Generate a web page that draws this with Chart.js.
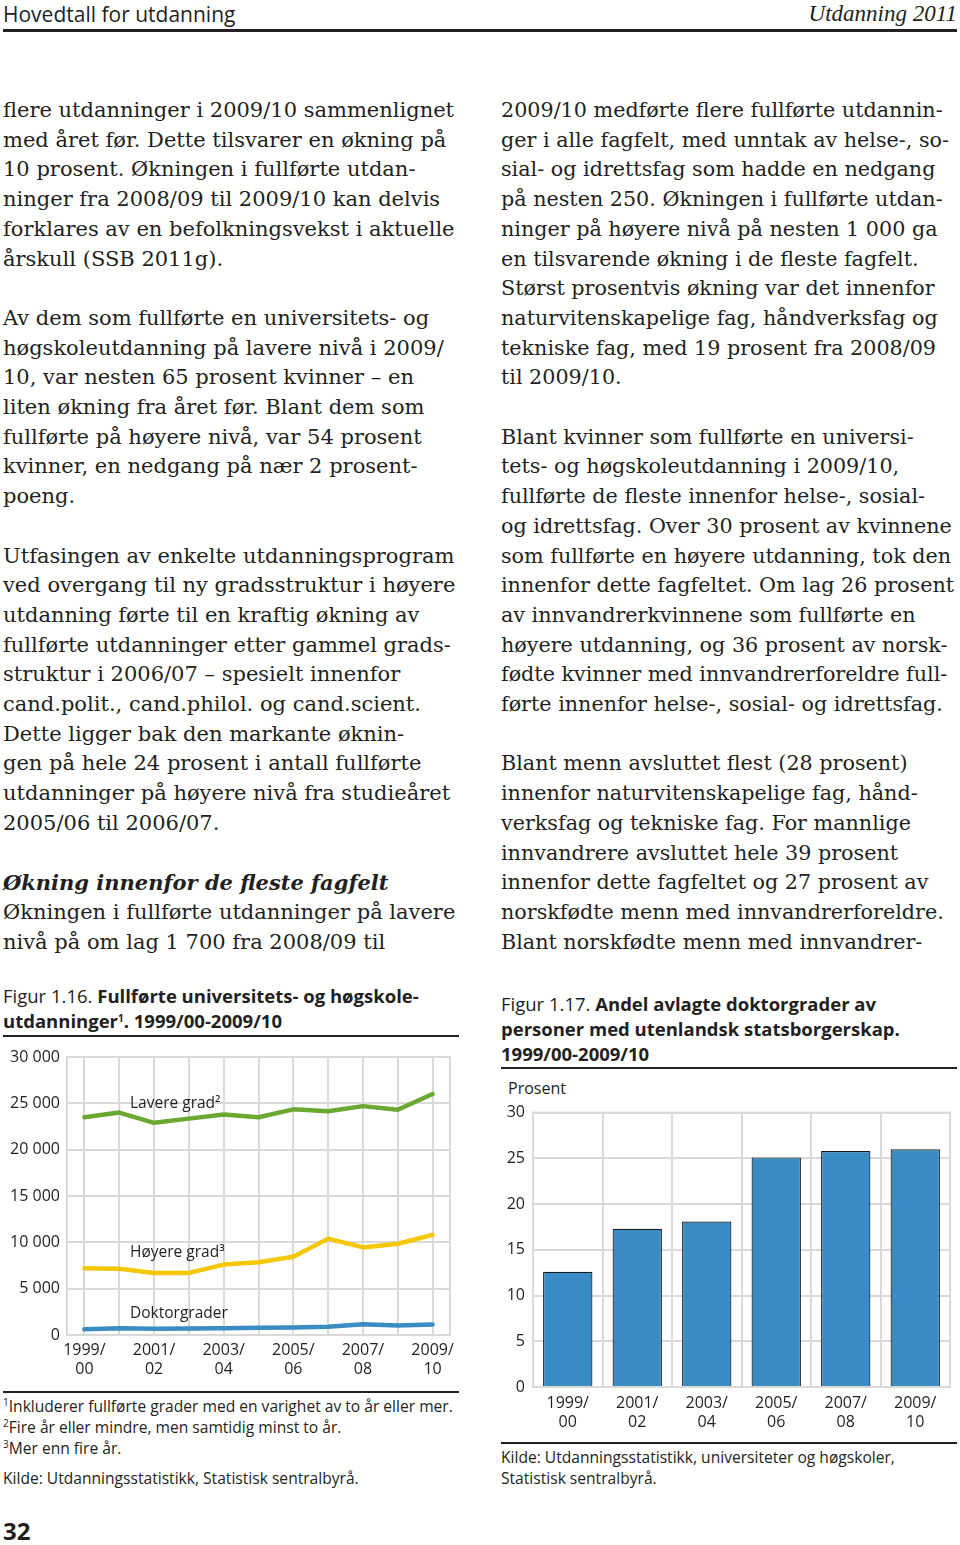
<!DOCTYPE html>
<html lang="no">
<head>
<meta charset="utf-8">
<script src="https://cdn.jsdelivr.net/npm/chart.js@4"></script>
<style>
  html, body { margin: 0; padding: 0; background: #fff; }
  body { width: 960px; height: 1545px; position: relative; overflow: hidden; color: #231f20; }
  .abs { position: absolute; }
  .hdr-l { left: 3px; top: 0px; font: 21px "Open Sans", sans-serif; line-height: 28px; }
  .hdr-r { right: 3px; top: 0px; font: italic 23px "Liberation Serif", serif; line-height: 28px; }
  .rule { background: #231f20; }
  .col { font-family: "DejaVu Serif", serif; font-size: 21px; line-height: 29.7px; white-space: nowrap; }
  .col .gap { height: 29.7px; }
  .col .h { font-weight: bold; font-style: italic; }
  .fig { font-family: "Open Sans", sans-serif; font-size: 18.5px; line-height: 25px; white-space: nowrap; }
  .fig b { font-weight: bold; }
  .fig sup, .note sup { font-size: 10px; vertical-align: 6px; line-height: 0; }
  .note { font-family: "Open Sans", sans-serif; font-size: 15.6px; line-height: 21px; white-space: nowrap; }
  .chartbox { position: absolute; }
  .pg { left: 3px; top: 1514px; font: bold 24px "Open Sans", sans-serif; }
</style>
</head>
<body>

<div class="abs hdr-l">Hovedtall for utdanning</div>
<div class="abs hdr-r">Utdanning 2011</div>
<div class="abs rule" style="left:3px; top:29px; width:954px; height:3px;"></div>

<div class="abs col" style="left:3px; top:96px;">
  <div>flere utdanninger i 2009/10 sammenlignet</div>
  <div>med året før. Dette tilsvarer en økning på</div>
  <div>10 prosent. Økningen i fullførte utdan-</div>
  <div>ninger fra 2008/09 til 2009/10 kan delvis</div>
  <div>forklares av en befolkningsvekst i aktuelle</div>
  <div>årskull (SSB 2011g).</div>
  <div class="gap"></div>
  <div>Av dem som fullførte en universitets- og</div>
  <div>høgskoleutdanning på lavere nivå i 2009/</div>
  <div>10, var nesten 65 prosent kvinner – en</div>
  <div>liten økning fra året før. Blant dem som</div>
  <div>fullførte på høyere nivå, var 54 prosent</div>
  <div>kvinner, en nedgang på nær 2 prosent-</div>
  <div>poeng.</div>
  <div class="gap"></div>
  <div>Utfasingen av enkelte utdanningsprogram</div>
  <div>ved overgang til ny gradsstruktur i høyere</div>
  <div>utdanning førte til en kraftig økning av</div>
  <div>fullførte utdanninger etter gammel grads-</div>
  <div>struktur i 2006/07 – spesielt innenfor</div>
  <div>cand.polit., cand.philol. og cand.scient.</div>
  <div>Dette ligger bak den markante øknin-</div>
  <div>gen på hele 24 prosent i antall fullførte</div>
  <div>utdanninger på høyere nivå fra studieåret</div>
  <div>2005/06 til 2006/07.</div>
  <div class="gap"></div>
  <div class="h">Økning innenfor de fleste fagfelt</div>
  <div>Økningen i fullførte utdanninger på lavere</div>
  <div>nivå på om lag 1 700 fra 2008/09 til</div>
</div>

<div class="abs col" style="left:501px; top:96px; font-size:20.7px;">
  <div>2009/10 medførte flere fullførte utdannin-</div>
  <div>ger i alle fagfelt, med unntak av helse-, so-</div>
  <div>sial- og idrettsfag som hadde en nedgang</div>
  <div>på nesten 250. Økningen i fullførte utdan-</div>
  <div>ninger på høyere nivå på nesten 1 000 ga</div>
  <div>en tilsvarende økning i de fleste fagfelt.</div>
  <div>Størst prosentvis økning var det innenfor</div>
  <div>naturvitenskapelige fag, håndverksfag og</div>
  <div>tekniske fag, med 19 prosent fra 2008/09</div>
  <div>til 2009/10.</div>
  <div class="gap"></div>
  <div>Blant kvinner som fullførte en universi-</div>
  <div>tets- og høgskoleutdanning i 2009/10,</div>
  <div>fullførte de fleste innenfor helse-, sosial-</div>
  <div>og idrettsfag. Over 30 prosent av kvinnene</div>
  <div>som fullførte en høyere utdanning, tok den</div>
  <div>innenfor dette fagfeltet. Om lag 26 prosent</div>
  <div>av innvandrerkvinnene som fullførte en</div>
  <div>høyere utdanning, og 36 prosent av norsk-</div>
  <div>fødte kvinner med innvandrerforeldre full-</div>
  <div>førte innenfor helse-, sosial- og idrettsfag.</div>
  <div class="gap"></div>
  <div>Blant menn avsluttet flest (28 prosent)</div>
  <div>innenfor naturvitenskapelige fag, hånd-</div>
  <div>verksfag og tekniske fag. For mannlige</div>
  <div>innvandrere avsluttet hele 39 prosent</div>
  <div>innenfor dette fagfeltet og 27 prosent av</div>
  <div>norskfødte menn med innvandrerforeldre.</div>
  <div>Blant norskfødte menn med innvandrer-</div>
</div>

<!-- Figur 1.16 -->
<div class="abs fig" style="left:3px; top:983px;">
  <div>Figur 1.16. <b>Fullførte universitets- og høgskole-</b></div>
  <div><b>utdanninger<sup>1</sup>. 1999/00-2009/10</b></div>
</div>
<div class="abs rule" style="left:3px; top:1035px; width:456px; height:2px;"></div>
<div class="chartbox" style="left:3px; top:1040px; width:459px; height:340px;">
  <canvas id="lineChart"></canvas>
</div>
<div class="abs rule" style="left:3px; top:1391px; width:456px; height:2px;"></div>
<div class="abs note" style="left:3px; top:1396px;">
  <div><sup>1</sup>Inkluderer fullførte grader med en varighet av to år eller mer.</div>
  <div><sup>2</sup>Fire år eller mindre, men samtidig minst to år.</div>
  <div><sup>3</sup>Mer enn fire år.</div>
  <div style="margin-top:9px;">Kilde: Utdanningsstatistikk, Statistisk sentralbyrå.</div>
</div>

<!-- Figur 1.17 -->
<div class="abs fig" style="left:501px; top:991px;">
  <div>Figur 1.17. <b>Andel avlagte doktorgrader av</b></div>
  <div><b>personer med utenlandsk statsborgerskap.</b></div>
  <div><b>1999/00-2009/10</b></div>
</div>
<div class="abs rule" style="left:501px; top:1067px; width:456px; height:2px;"></div>
<div class="abs note" style="left:508px; top:1078px; font-size:16px;">Prosent</div>
<div class="chartbox" style="left:490px; top:1095px; width:470px; height:337px;">
  <canvas id="barChart"></canvas>
</div>
<div class="abs rule" style="left:501px; top:1442px; width:456px; height:2px;"></div>
<div class="abs note" style="left:501px; top:1447px;">
  <div>Kilde: Utdanningsstatistikk, universiteter og høgskoler,</div>
  <div>Statistisk sentralbyrå.</div>
</div>

<div class="abs pg">32</div>

<script>
// --- data, figur 1.16 (antall fullførte, per studieår)
const years = ["1999/00", "2000/01", "2001/02", "2002/03", "2003/04", "2004/05",
               "2005/06", "2006/07", "2007/08", "2008/09", "2009/10"];
const lavereGrad = [23500, 24000, 22900, 23350, 23800, 23500, 24350, 24150, 24700, 24300, 26000];
const hoyereGrad = [7200, 7150, 6700, 6700, 7600, 7850, 8450, 10400, 9450, 9850, 10800];
const doktorgrader = [620, 720, 680, 700, 720, 780, 820, 880, 1150, 1030, 1130];
const lineNames = ["Lavere grad²", "Høyere grad³", "Doktorgrader"];

// --- data, figur 1.17 (prosent)
const barYears = ["1999/00", "2001/02", "2003/04", "2005/06", "2007/08", "2009/10"];
const andelUtenlandsk = [12.6, 17.3, 18.1, 25.1, 25.8, 26.0];

const GRID = "#d9d9d9";
const TEXT = "#231f20";
const FONT = "'Open Sans', sans-serif";

function splitYear(label) {
    const p = label.split("/");
    return [p[0] + "/", p[1]];
}

function thousands(v) {
    return String(v).replace(/\B(?=(\d{3})+(?!\d))/g, " ");
}

// light grey box round the plot area
const frame = {
    id: "frame",
    beforeDatasetsDraw(chart) {
        const a = chart.chartArea, ctx = chart.ctx;
        ctx.save();
        ctx.strokeStyle = GRID;
        ctx.lineWidth = 2;
        ctx.strokeRect(a.left, a.top, a.right - a.left, a.bottom - a.top);
        ctx.restore();
    }
};

// series names written inside the line chart, placed in data units
const lineLabels = {
    id: "lineLabels",
    afterDatasetsDraw(chart, args, opts) {
        const ctx = chart.ctx, x = chart.scales.x, y = chart.scales.y;
        ctx.save();
        ctx.fillStyle = TEXT;
        ctx.font = "15.5px " + FONT;
        ctx.textBaseline = "middle";
        ctx.textAlign = "left";
        opts.items.forEach(it => {
            ctx.fillText(it.text, x.getPixelForValue(it.at), y.getPixelForValue(it.value));
        });
        ctx.restore();
    }
};

Chart.defaults.font.family = FONT;
Chart.defaults.color = TEXT;

new Chart(document.getElementById("lineChart"), {
    type: "line",
    data: {
        labels: years,
        datasets: [
            { label: lineNames[0], data: lavereGrad, borderColor: "#6aa832" },
            { label: lineNames[1], data: hoyereGrad, borderColor: "#f4c700" },
            { label: lineNames[2], data: doktorgrader, borderColor: "#3a8cc2" }
        ]
    },
    options: {
        responsive: true,
        maintainAspectRatio: false,
        animation: false,
        layout: { padding: { top: 17, right: 12, left: 0, bottom: 0 } },
        elements: {
            line: { borderWidth: 4.5, tension: 0, borderJoinStyle: "round", borderCapStyle: "round" },
            point: { radius: 0 }
        },
        plugins: {
            legend: { display: false },
            tooltip: { enabled: false },
            lineLabels: {
                items: [
                    { text: lineNames[0], at: 1.31, value: 25000 },
                    { text: lineNames[1], at: 1.31, value: 8900 },
                    { text: lineNames[2], at: 1.31, value: 2350 }
                ]
            }
        },
        scales: {
            x: {
                offset: true,
                grid: { color: GRID, lineWidth: 2, offset: false, drawTicks: false },
                border: { display: false },
                afterFit: s => { s.height = 45; },
                ticks: {
                    autoSkip: false,
                    maxRotation: 0,
                    padding: 6,
                    font: { size: 16 },
                    color: TEXT,
                    callback: function (v, i) {
                        return i % 2 === 0 ? splitYear(this.getLabelForValue(v)) : "";
                    }
                }
            },
            y: {
                min: 0,
                max: 30000,
                grid: { color: GRID, lineWidth: 2, drawTicks: false },
                border: { display: false },
                afterFit: s => { s.width = 64; },
                ticks: {
                    stepSize: 5000,
                    padding: 7,
                    font: { size: 16 },
                    color: TEXT,
                    callback: v => thousands(v)
                }
            }
        }
    },
    plugins: [frame, lineLabels]
});

new Chart(document.getElementById("barChart"), {
    type: "bar",
    data: {
        labels: barYears,
        datasets: [{
            data: andelUtenlandsk,
            backgroundColor: "#3a8cc4",
            borderColor: "#1b1b1b",
            borderWidth: 1.2,
            categoryPercentage: 1,
            barPercentage: 0.71
        }]
    },
    options: {
        responsive: true,
        maintainAspectRatio: false,
        animation: false,
        layout: { padding: { top: 12, right: 10, left: 0, bottom: 0 } },
        plugins: { legend: { display: false }, tooltip: { enabled: false } },
        scales: {
            x: {
                grid: { color: GRID, lineWidth: 2, drawTicks: false },
                border: { display: false },
                afterFit: s => { s.height = 45; },
                ticks: {
                    maxRotation: 0,
                    padding: 7,
                    font: { size: 16 },
                    color: TEXT,
                    callback: function (v) { return splitYear(this.getLabelForValue(v)); }
                }
            },
            y: {
                min: 0,
                max: 30,
                grid: { color: GRID, lineWidth: 2, drawTicks: false },
                border: { display: false },
                afterFit: s => { s.width = 43; },
                ticks: { stepSize: 5, padding: 8, font: { size: 16 }, color: TEXT }
            }
        }
    },
    plugins: [frame]
});
</script>
</body>
</html>
